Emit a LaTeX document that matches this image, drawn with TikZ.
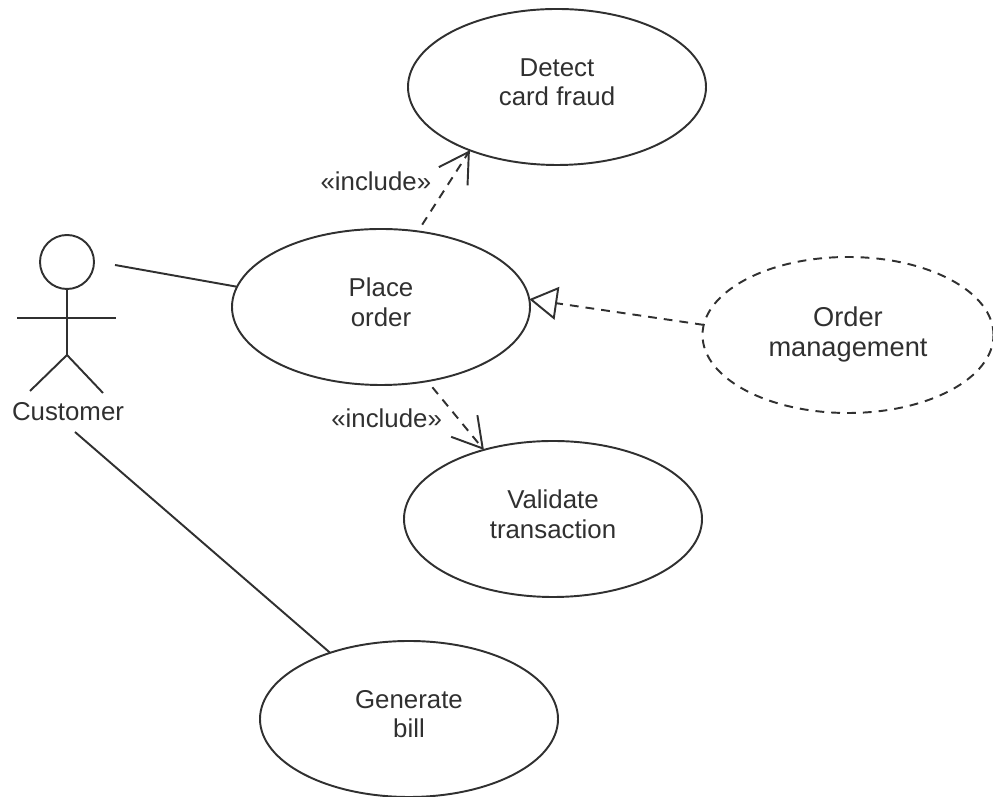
\documentclass[tikz,border=0pt]{standalone}
\usepackage{fontspec}
\setmainfont{Liberation Sans}
\usetikzlibrary{arrows.meta,shapes.geometric}
\definecolor{ink}{HTML}{303030}
\tikzset{
  >={Straight Barb[length=.58cm,width=.68cm]},
}
\tikzstyle{usecase}=[draw=ink,ellipse,line width=1.1pt,minimum width=5.96cm,minimum height=3.12cm,inner sep=0pt,outer sep=0pt,align=center,text=ink,text depth=5.7pt,font=\fontsize{14.7}{16.8}\selectfont]
\tikzstyle{abstractcase}=[usecase,minimum width=5.82cm,dash pattern=on 5pt off 4pt,text depth=4.2pt,font=\fontsize{15.5}{17}\selectfont]
\tikzstyle{label}=[text=ink,inner sep=0pt,font=\fontsize{14.7}{16.8}\selectfont]
\tikzstyle{limb}=[draw=ink,line width=1.1pt]
\tikzstyle{assoc}=[limb]
\tikzstyle{include}=[limb,->,dash pattern=on 5pt off 4pt,shorten <=.16cm]
\tikzstyle{realize}=[limb,-{Triangle[open,length=.56cm,width=.66cm]},dash pattern=on 5pt off 4pt]

\begin{document}
\begin{tikzpicture}
    \useasboundingbox (0,0) rectangle (19.86,15.94);
    \node[usecase] (detect) at (11.14,14.2) {Detect\\card fraud};
    \node[usecase] (place) at (7.62,9.8) {Place\\order};
    \node[abstractcase] (manage) at (16.96,9.24) {Order\\management};
    \node[usecase] (validate) at (11.06,5.56) {Validate\\transaction};
    \node[usecase] (bill) at (8.18,1.56) {Generate\\bill};
    % actor
    \node[limb,circle,minimum size=1.08cm,inner sep=0pt,outer sep=0pt] (head) at (1.34,10.7) {};
    \coordinate (hip) at (1.34,8.84);
    \coordinate (handl) at (.34,9.58);
    \coordinate (handr) at (2.32,9.58);
    \coordinate (footl) at (.6,8.12);
    \coordinate (footr) at (2.06,8.08);
    \node[label] (customer) at (1.36,7.7) {Customer};
    \draw[limb] (head.south)--(hip);
    \draw[limb] (handl)--(handr);
    \draw[limb] (footl)--(hip)--(footr);
    % connectors
    \coordinate (cusup) at (2.3,10.64);
    \coordinate (cusdown) at (1.5,7.3);
    \draw[assoc] (cusup)--(place.172);
    \draw[assoc] (cusdown)--(bill.140);
    \draw[include] (place.64)--(detect.216) node[label,pos=.5,xshift=-1.36cm,yshift=.2cm] (inca) {«include»};
    \draw[include] (place.302)--(validate.135) node[label,pos=.5,xshift=-1.38cm,yshift=-.06cm] (incb) {«include»};
    \draw[realize] (manage.176)--(place.3);
  \end{tikzpicture}
\end{document}
